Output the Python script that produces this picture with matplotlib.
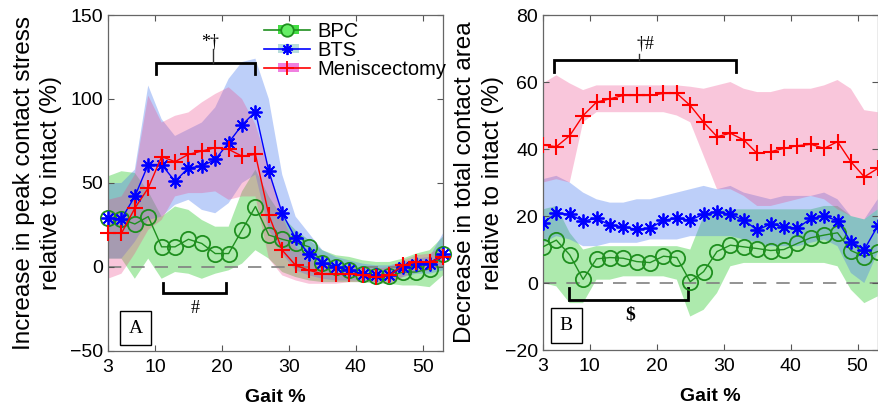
import matplotlib
matplotlib.use("Agg")
import matplotlib.pyplot as plt
from matplotlib.legend_handler import HandlerBase
from matplotlib.lines import Line2D
from matplotlib.patches import Rectangle

plt.rcParams['font.family'] = ['Liberation Sans', 'DejaVu Sans']

gait = list(range(3, 54, 2))

# Panel A - increase in peak contact stress relative to intact (%)
a_bpc = [29, 28.6, 25.6, 30, 12, 12, 16.5, 14, 8, 8, 22, 36, 19, 16.5, 14.5, 12,
         2.6, 0, -2, -4, -5.5, -5.5, -3, -3, -1, 8]
a_bpc_lo = [5, 5, -7, 5, -7, -3, -4, -7, -4, -2, 2, 10, 5, -3, -6, -8,
            -9, -9, -9, -9, -10, -10, -11, -11, -12, -5]
a_bpc_hi = [54, 57, 56, 45, 30, 36, 34, 28, 24, 24, 45, 58, 42, 30, 22, 16,
            10, 7, 6, 4, 3, 3, 5, 8, 10, 18]
a_bts = [29, 28.6, 42, 61, 61, 51, 59, 60, 64, 74, 84.5, 92.5, 57, 32, 17, 8,
         2.6, 0, -2, -4, -5, -5, 0, 2, 2, 8]
a_bts_lo = [5, 5, 15, 28, 30, 37, 40, 34, 32, 38, 50, 55, 22, 8, -2, -5,
            -7, -8, -8, -8, -9, -8, -6, -4, -4, -2]
a_bts_hi = [50, 50, 58, 108, 88, 78, 82, 86, 95, 112, 122, 124, 100, 55, 30, 20,
            10, 6, 4, 2, 1, 1, 3, 5, 6, 20]
a_men = [20.4, 20, 35, 47, 65.7, 62.7, 67, 69, 71, 70, 66, 67, 31, 10, 1, -2,
         -4, -4, -4, -5, -6, -5, 1, 3, 3, 6]
a_men_lo = [-7, -4, 8, 22, 28, 42, 44, 44, 45, 40, 42, 42, 5, -5, -8, -10,
            -10, -10, -9, -9, -9, -10, -6, -3, -2, 0]
a_men_hi = [40, 42, 55, 102, 86, 90, 92, 98, 103, 107, 100, 85, 60, 30, 12, 5,
            2, 0, 0, -1, -1, 0, 4, 7, 8, 12]

# Panel B - decrease in total contact area relative to intact (%)
b_bpc = [10.8, 12.8, 8.4, 1.1, 7.2, 7.6, 7.4, 6.4, 6.1, 8, 7.6, 0.4, 3.4, 9.4,
         11.3, 10.8, 10.3, 9.7, 10, 11.8, 13.5, 14.3, 15, 9.7, 7.9, 9.4]
b_bpc_lo = [0, -1, -6, -6, 1, 1, 2, 2, 2, 2, 1, -10, -8, -3, 5, 6, 6, 6, 6, 6,
            6, 6, 5, -2, -6, -4]
b_bpc_hi = [22, 23, 15, 10, 11, 11, 11, 11, 11, 11, 11, 10, 20, 22, 22, 22, 22,
            22, 22, 22, 22, 23, 23, 20, 19, 22]
b_bts = [18, 20.8, 20.5, 18.5, 19.3, 17.3, 16.8, 16, 16.3, 18.8, 19.3, 18.8,
         20.5, 21.3, 20.5, 18.8, 15.8, 17.6, 16.8, 16.3, 19.3, 20, 18.6, 12.3, 10, 17]
b_bts_lo = [12, 14, 13, 11, 11, 12, 12, 12, 13, 13, 13, 14, 14, 14, 14, 13, 12,
            11, 11, 11, 12, 13, 11, 3, 0, 9]
b_bts_hi = [31, 32, 30, 27, 25, 24, 24, 25, 25, 26, 27, 28, 29, 28, 29, 27, 26,
            25, 26, 26, 26, 27, 25, 20, 19, 25]
b_men = [41.2, 40.7, 44, 50, 54, 55, 56, 56, 56, 56.6, 56.6, 53, 48, 43.7, 44.7,
         42.7, 38.7, 39.2, 40.2, 41, 41.4, 40.2, 42.2, 36.2, 31.7, 34.2]
b_men_lo = [30, 31, 30, 48, 51, 51, 51, 51, 51, 51, 50, 48, 38, 28, 28, 26, 23,
            23, 24, 25, 26, 25, 22, 20, 19, 22]
b_men_hi = [59.6, 62, 59.6, 57.6, 59, 59, 59, 59, 59, 59, 59, 58.6, 58, 59, 60,
            58, 57, 57, 58, 58, 58, 59, 60.6, 58, 51.6, 51]

labels = ['BPC', 'BTS', 'Meniscectomy']

green, blue, red = '#1f8f1f', '#0000ff', '#ff0000'
styles = [
    dict(color=green, marker='o', ms=11, mfc='none', mec=green, mew=1.3),
    dict(color=blue, marker=(8, 2, 0), ms=10, mec=blue, mew=1.3),
    dict(color=red, marker='+', ms=12, mec=red, mew=1.5),
]
bands = [('#33cc33', 0.4), ('#4477ee', 0.35), ('#ee4488', 0.3)]

serif = ['Liberation Serif', 'DejaVu Serif']


class BandKey:
    def __init__(self, color, band, marker, size, face):
        self.color, self.band, self.marker = color, band, marker
        self.size, self.face = size, face


class BandHandler(HandlerBase):
    def create_artists(self, legend, key, xd, yd, width, height, fontsize, trans):
        yc = height / 2 - yd
        box = Rectangle((0.3 * width - xd, yc - 0.3 * height), 0.45 * width, 0.6 * height,
                        facecolor=key.band, edgecolor='none', transform=trans)
        line = Line2D([-xd, width - xd], [yc, yc], color=key.color, lw=1.2, transform=trans)
        mark = Line2D([0.5 * width - xd], [yc], ls='none', marker=key.marker,
                      ms=key.size, mfc=key.face, mec=key.color, mew=1.3, transform=trans)
        return [box, line, mark]


def draw_panel(ax, series, ylim, yticks, ylabel, clip):
    for (mean, lo, hi), (fc, al) in zip(series, bands):
        ax.fill_between(gait, lo, hi, facecolor=fc, alpha=al, lw=0)
    ax.axhline(0, color='#808080', lw=1.2, dashes=(8, 6), zorder=1)
    for (mean, lo, hi), st in zip(series, styles):
        ax.plot(gait, mean, lw=1, clip_on=clip, zorder=3, **st)
    ax.set_xlim(3, 53)
    ax.set_ylim(*ylim)
    ax.set_xticks([3, 10, 20, 30, 40, 50])
    ax.set_yticks(yticks)
    ax.tick_params(direction='in', top=True, right=True, length=4, width=0.8,
                   labelsize=14, color='#555555')
    ax.tick_params(axis='x', pad=6)
    for s in ax.spines.values():
        s.set_color('#666666')
        s.set_linewidth(0.9)
    ax.set_xlabel('Gait %', fontsize=14, fontweight='bold', labelpad=9)
    ax.set_ylabel(ylabel, fontsize=17.5, linespacing=1.3)


def bracket(ax, x0, x1, y, tip, xm=None, top=None):
    ax.plot([x0, x0, x1, x1], [y + tip, y, y, y + tip], color='black', lw=2,
            solid_joinstyle='miter', clip_on=False)
    if xm is not None:
        ax.plot([xm, xm], [y, top], color='#333333', lw=1, clip_on=False)


fig = plt.figure(figsize=(8.79, 4.11), dpi=100)
ax1 = fig.add_axes([0.1229, 0.146, 0.3811, 0.8175])
ax2 = fig.add_axes([0.6177, 0.1484, 0.3808, 0.815])

draw_panel(ax1, [(a_bpc, a_bpc_lo, a_bpc_hi), (a_bts, a_bts_lo, a_bts_hi),
                 (a_men, a_men_lo, a_men_hi)],
           (-50, 150), [-50, 0, 50, 100, 150],
           'Increase in peak contact stress\nrelative to intact (%)', False)
ax1.yaxis.labelpad = 6
draw_panel(ax2, [(b_bpc, b_bpc_lo, b_bpc_hi), (b_bts, b_bts_lo, b_bts_hi),
                 (b_men, b_men_lo, b_men_hi)],
           (-20, 80), [-20, 0, 20, 40, 60, 80],
           'Decrease in total contact area\nrelative to intact (%)', True)
ax2.yaxis.labelpad = 1

# significance brackets
bracket(ax1, 10.2, 25, 121.5, -6.5, 18.7, 130)
ax1.text(18.3, 134, '*\u2020', ha='center', va='center', fontsize=13, family=serif)
bracket(ax1, 11.2, 20.6, -15.5, 6)
ax1.text(16, -24.5, '#', ha='center', va='center', fontsize=13, family=serif)
bracket(ax2, 4.6, 31.9, 66.6, -3.5, 17.4, 68.5)
ax2.text(18.3, 71.5, '\u2020#', ha='center', va='center', fontsize=13, family=serif)
bracket(ax2, 6.9, 24.7, -5, 3.4)
ax2.text(16, -9.5, '$', ha='center', va='center', fontsize=14, fontweight='bold',
         family=serif)

for ax, tag, x, y in [(ax1, 'A', 0.082, 0.068), (ax2, 'B', 0.07, 0.073)]:
    ax.text(x, y, tag, transform=ax.transAxes, ha='center', va='center',
            fontsize=14, family=serif,
            bbox=dict(boxstyle='square,pad=0.45', fc='white', ec='black', lw=1))

keys = [BandKey(green, '#44dd44', 'o', 9, '#66ee66'),
        BandKey(blue, '#b8dcdc', (8, 2, 0), 8, blue),
        BandKey(red, '#f080e0', '+', 10, red)]
ax1.legend(keys, labels, handler_map={BandKey: BandHandler()}, loc='upper right',
           bbox_to_anchor=(1.01, 0.98), frameon=False, fontsize=14.5,
           handlelength=2.3, handletextpad=0.35, labelspacing=0,
           borderpad=0, borderaxespad=0)

fig.savefig('out.png', dpi=100)
